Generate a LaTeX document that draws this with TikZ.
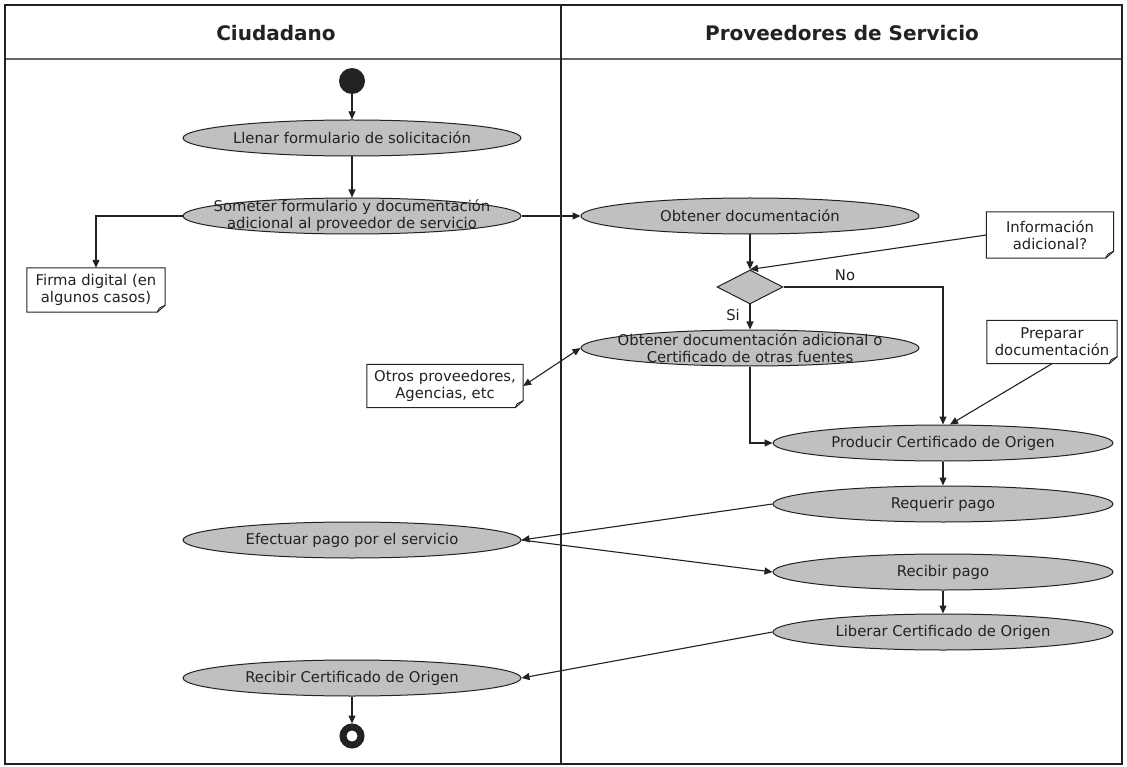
\documentclass[tikz,border=0pt]{standalone}
\usepackage{fontspec}
\setmainfont{DejaVu Sans}
\usetikzlibrary{shapes.geometric,arrows.meta}
\definecolor{actgray}{HTML}{C0C0C0}
\definecolor{ink}{HTML}{222222}

% note with a folded lower-right corner, drawn around an existing node
\newcommand{\foldnote}[1]{%
  \draw[ink, line width=1pt, fill=white]
    (#1.north west) -- (#1.north east) -- ([yshift=7pt]#1.south east)
    -- ([xshift=-8pt]#1.south east) -- (#1.south west) -- cycle;
  \draw[ink, line width=0.8pt]
    ([xshift=-8pt]#1.south east) -- ([xshift=-6pt,yshift=4pt]#1.south east)
    -- ([yshift=7pt]#1.south east);
}

\begin{document}
\begin{tikzpicture}[x=1pt,y=-1pt,
  every node/.style={font=\fontsize{14.8}{17}\selectfont, text=ink},
  act/.style={ellipse, draw=ink, fill=actgray, line width=1pt,
    minimum width=338pt, minimum height=36pt, inner sep=0pt, align=center},
  plain/.style={rectangle, draw=none, align=center, inner sep=0pt},
  flow/.style={draw=ink, line width=1.1pt, -{Triangle[length=8pt,width=7pt]}},
  both/.style={draw=ink, line width=1.1pt,
    {Triangle[length=8pt,width=7pt]}-{Triangle[length=8pt,width=7pt]}},
  header/.style={font=\bfseries\fontsize{20}{24}\selectfont}]

\useasboundingbox (0,0) rectangle (1127,767);
\fill[white] (0,0) rectangle (1127,767);

% swimlanes
\draw[ink!70, line width=1.4pt] (5,59) -- (1122,59);
\draw[ink, line width=1.4pt] (561,5) -- (561,764);
\draw[ink, line width=2.2pt] (5,5) rectangle (1122,764);
\node[header] (laneA) at (276,33) {Ciudadano};
\node[header] (laneB) at (842,33) {Proveedores de Servicio};

% citizen lane
\node[circle, fill=ink, minimum size=26pt, inner sep=0pt] (start) at (352,81) {};
\node[act] (llenar) at (352,138) {Llenar formulario de solicitación};
\node[act] (someter) at (352,216) {};
\node[plain] at (someter) {Someter formulario y documentación\\adicional al proveedor de servicio};
\node[act] (efect) at (352,540) {Efectuar pago por el servicio};
\node[act] (rcert) at (352,678) {Recibir Certificado de Origen};
\node[circle, draw=ink, line width=7pt, fill=white, minimum size=18pt, inner sep=0pt] (end) at (352,736) {};

% provider lane
\node[act] (obt) at (750,216) {Obtener documentación};
\node[diamond, draw=ink, fill=actgray, line width=1pt, minimum width=66pt,
      minimum height=34pt, inner sep=0pt] (dec) at (750,287) {};
\node (no) at (845,275) {No};
\node (si) at (733,315) {Si};
\node[act] (oad) at (750,348) {};
\node[plain] at (oad) {Obtener documentación adicional o\\Certificado de otras fuentes};
\node[act, minimum width=340pt] (prod) at (943,443) {Producir Certificado de Origen};
\node[act, minimum width=340pt] (req) at (943,504) {Requerir pago};
\node[act, minimum width=340pt] (recp) at (943,572) {Recibir pago};
\node[act, minimum width=340pt] (lib) at (943,632) {Liberar Certificado de Origen};

% notes
\node[plain, minimum width=138pt, minimum height=44pt] (firma) at (96,290) {};
\foldnote{firma}
\node[plain] at (firma) {Firma digital (en\\algunos casos)};

\node[plain, minimum width=156pt, minimum height=43pt] (otros) at (445,386) {};
\foldnote{otros}
\node[plain] at (otros) {Otros proveedores,\\Agencias, etc};

\node[plain, minimum width=127pt, minimum height=46pt] (info) at (1050,235) {};
\foldnote{info}
\node[plain] at (info) {Información\\adicional?};

\node[plain, minimum width=130pt, minimum height=43pt] (prep) at (1052,342) {};
\foldnote{prep}
\node[plain] at (prep) {Preparar\\documentación};

% flows
\draw[flow] (start) -- (llenar);
\draw[flow] (llenar) -- (someter);
\draw[flow] (someter.west) -| (firma.north);
\draw[flow] (someter.east) -- (obt.west);
\draw[flow] (obt) -- (dec);
\draw[flow] (info.west) -- (dec.north);
\draw[flow] (dec.south) -- (oad.north);
\draw[flow] (dec.east) -| (prod.north);
\draw[both] (otros.east) -- (oad.west);
\draw[flow] (oad.south) |- (prod.west);
\draw[flow] (prep.south) -- ([xshift=7pt]prod.north);
\draw[flow] (prod) -- (req);
\draw[flow] (req.west) -- (efect.east);
\draw[flow] (efect.east) -- (recp.west);
\draw[flow] (recp) -- (lib);
\draw[flow] (lib.west) -- (rcert.east);
\draw[flow] (rcert) -- (end);
\end{tikzpicture}
\end{document}
